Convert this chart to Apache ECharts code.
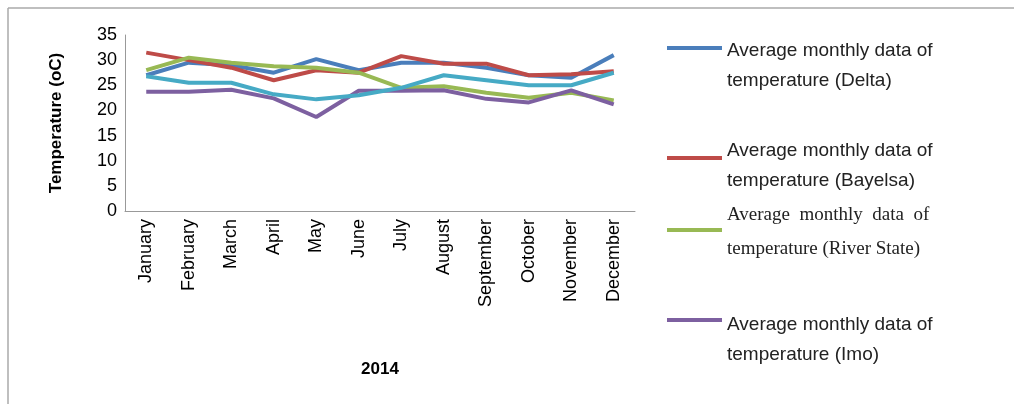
<!DOCTYPE html>
<html><head><meta charset="utf-8">
<script src="https://cdn.jsdelivr.net/npm/echarts@6/dist/echarts.min.js"></script>
<style>html,body{margin:0;background:#fff}#c{width:1014px;height:404px}</style></head>
<body><div id="c"></div>
<script>
const months=['January','February','March','April','May','June','July','August','September','October','November','December'];
const delta=[27,29.5,29,27.5,30.2,28,29.5,29.5,28.5,27,26.5,31];
const bayelsa=[31.5,30,28.5,26,28,27.5,30.8,29.3,29.3,27,27.2,27.8];
const river=[28,30.5,29.5,28.8,28.5,27.5,24.5,24.8,23.5,22.5,23.5,22];
const imo=[23.7,23.7,24.1,22.4,18.7,23.9,23.9,24,22.3,21.6,24,21.2];
const cyan=[26.8,25.5,25.5,23.2,22.2,23,24.5,27,26,25,25,27.5];
const yTicks=[0,5,10,15,20,25,30,35];
const names=['Average monthly data of temperature (Delta)','Average monthly data of temperature (Bayelsa)','Average monthly data of temperature (River State)','Average monthly data of temperature (Imo)','Series 5'];
const colors=['#4a7ebb','#be4b48','#98b954','#7d60a0','#46aac5'];
const datas=[delta,bayelsa,river,imo,cyan];
const ch=echarts.init(document.getElementById('c'));
const leg=[[48,36,'Average monthly data of','temperature (Delta)','sans-serif'],[158,136,'Average monthly data of','temperature (Bayelsa)','sans-serif'],[230,198,'Average  monthly  data  of','temperature (River State)','serif'],[320,310,'Average monthly data of','temperature (Imo)','sans-serif']];
const g=[
 {type:'line',shape:{x1:8,y1:404,x2:8,y2:8},style:{stroke:'#aaa',lineWidth:1.5}},
 {type:'line',shape:{x1:8,y1:8,x2:1014,y2:8},style:{stroke:'#aaa',lineWidth:1.5}}];
leg.forEach((l,i)=>{
 g.push({type:'line',shape:{x1:667,y1:l[0],x2:722,y2:l[0]},style:{stroke:colors[i],lineWidth:4}});
 g.push({type:'text',left:727,top:l[1],style:{text:l[2]+'\n'+l[3],font:(l[4]==='serif'?'19px "Liberation Serif"':'19px "Liberation Sans"'),fill:'#222',lineHeight:l[4]==='serif'?34:30}});
});
ch.setOption({
 animation:false,
 grid:{left:125,right:379,top:35,bottom:193},
 xAxis:{type:'category',data:months,boundaryGap:true,axisTick:{show:false},
  axisLine:{lineStyle:{color:'#999'}},
  axisLabel:{rotate:90,color:'#000',fontSize:18,fontFamily:'Liberation Sans',interval:0},
  name:'2014',nameLocation:'middle',nameGap:150,nameTextStyle:{fontWeight:'bold',fontSize:17,fontFamily:'Liberation Sans',color:'#000'}},
 yAxis:{type:'value',min:0,max:35,interval:5,splitLine:{show:false},
  axisLine:{show:true,lineStyle:{color:'#999'}},axisTick:{show:false},
  axisLabel:{color:'#000',fontSize:18,fontFamily:'Liberation Sans',formatter:v=>yTicks.includes(v)?String(v):''},
  name:'Temperature (oC)',nameLocation:'middle',nameGap:60,nameTextStyle:{fontWeight:'bold',fontSize:17,fontFamily:'Liberation Sans',color:'#000'}},
 series:datas.map((d,i)=>({type:'line',name:names[i],data:d,symbol:'none',lineStyle:{color:colors[i],width:4}})),
 graphic:g
});
</script></body></html>
